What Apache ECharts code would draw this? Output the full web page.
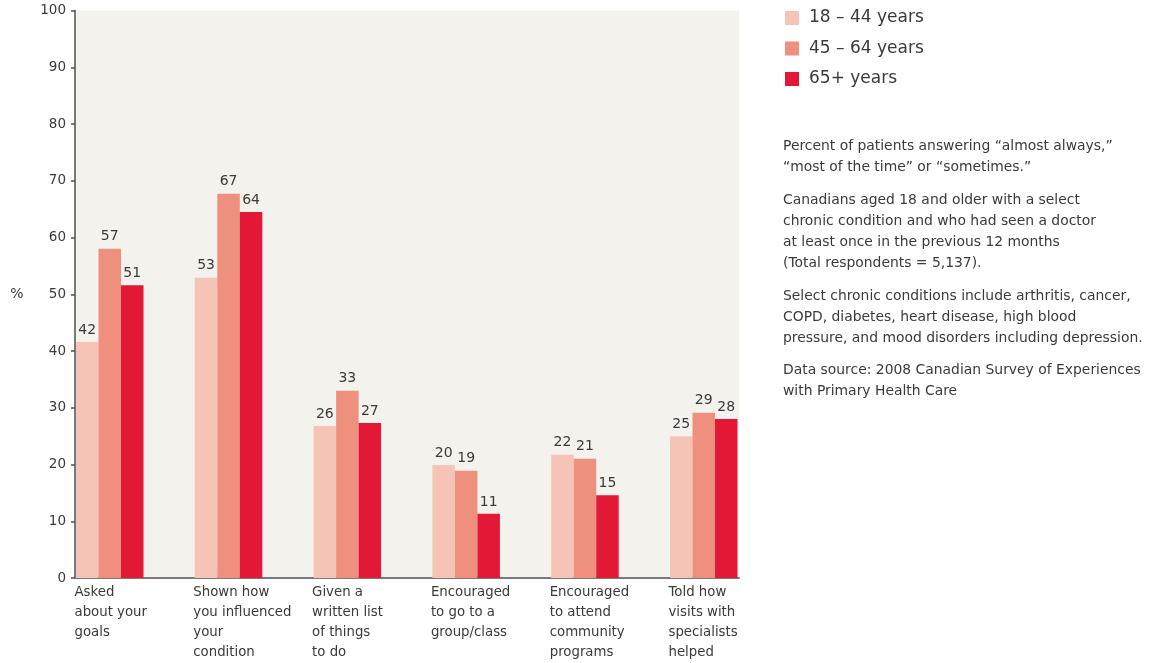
<!DOCTYPE html>
<html>
<head>
<meta charset="utf-8">
<script src="https://cdn.jsdelivr.net/npm/echarts@6/dist/echarts.min.js"></script>
<style>
html,body{margin:0;padding:0;background:#fff;}
#chart{width:1149px;height:663px;}
</style>
</head>
<body>
<div id="chart"></div>
<script>
// ---- data ----
const categories = [
  'Asked\nabout your\ngoals',
  'Shown how\nyou influenced\nyour\ncondition',
  'Given a\nwritten list\nof things\nto do',
  'Encouraged\nto go to a\ngroup/class',
  'Encouraged\nto attend\ncommunity\nprograms',
  'Told how\nvisits with\nspecialists\nhelped'
];
const seriesNames = ['18 – 44 years', '45 – 64 years', '65+ years'];
// bar heights as drawn
const age18to44 = [41.6, 52.9, 26.8, 19.9, 21.7, 25.0];
const age45to64 = [58.0, 67.7, 33.0, 18.9, 21.0, 29.1];
const age65plus = [51.6, 64.5, 27.3, 11.3, 14.6, 28.0];
// printed value labels
const labels18to44 = [42, 53, 26, 20, 22, 25];
const labels45to64 = [57, 67, 33, 19, 21, 29];
const labels65plus = [51, 64, 27, 11, 15, 28];
const yMin = 0, yMax = 100, yStep = 10;
const notes = [
  'Percent of patients answering “almost always,”\n“most of the time” or “sometimes.”',
  'Canadians aged 18 and older with a select\nchronic condition and who had seen a doctor\nat least once in the previous 12 months\n(Total respondents = 5,137).',
  'Select chronic conditions include arthritis, cancer,\nCOPD, diabetes, heart disease, high blood\npressure, and mood disorders including depression.',
  'Data source: 2008 Canadian Survey of Experiences\nwith Primary Health Care'
];
const noteTops = [136, 190, 286, 360];

// ---- style ----
const FONT = 'DejaVu Sans';
const colors = ['#f6c4b6', '#ef8f7e', '#e31837'];
const valueSets = [age18to44, age45to64, age65plus];
const labelSets = [labels18to44, labels45to64, labels65plus];

const plotTop = 10.5, plotHeight = 567.5;
const bandW = 118.8, firstGroupCenter = 109.75;
const barsLeft = firstGroupCenter - bandW / 2;

const chart = echarts.init(document.getElementById('chart'), null, {renderer: 'canvas'});

const option = {
  animation: false,
  textStyle: {fontFamily: FONT},
  color: colors,
  title: notes.map((t, i) => ({
    text: t,
    left: 783,
    top: noteTops[i],
    padding: 0,
    textStyle: {fontFamily: FONT, fontSize: 13.9, fontWeight: 'normal', color: '#3a3a3a', lineHeight: 21}
  })),
  legend: {
    data: seriesNames,
    orient: 'vertical',
    left: 785,
    top: 8,
    padding: 0,
    icon: 'rect',
    itemWidth: 14,
    itemHeight: 14,
    itemGap: 10.5,
    selectedMode: false,
    textStyle: {fontFamily: FONT, fontSize: 17, color: '#3a3a3a', lineHeight: 20, padding: [0, 0, 0, 5]}
  },
  grid: [
    {left: 75, top: plotTop, width: 664, height: plotHeight, show: true, backgroundColor: '#f3f2ec', borderWidth: 0},
    {left: barsLeft, top: plotTop, width: bandW * 6, height: plotHeight},
    {left: barsLeft - 35.25, top: plotTop, width: bandW * 6, height: plotHeight}
  ],
  xAxis: [
    {gridIndex: 0, type: 'category', data: categories, position: 'bottom',
     axisLine: {show: true, lineStyle: {color: '#7a7a7a', width: 2}},
     axisTick: {show: false}, axisLabel: {show: false}, splitLine: {show: false}},
    {gridIndex: 1, type: 'category', data: categories,
     axisLine: {show: false}, axisTick: {show: false}, axisLabel: {show: false}},
    {gridIndex: 2, type: 'category', data: categories,
     axisLine: {show: false}, axisTick: {show: false},
     axisLabel: {show: true, interval: 0, align: 'left', verticalAlign: 'top', margin: 5.5,
       fontFamily: FONT, fontSize: 13.3, lineHeight: 20, color: '#3a3a3a'}}
  ],
  yAxis: [
    {gridIndex: 0, type: 'value', min: yMin, max: yMax, interval: yStep,
     name: '%', nameLocation: 'middle', nameGap: 51.5, nameRotate: 0,
     nameTextStyle: {fontFamily: FONT, fontSize: 14, color: '#3a3a3a'},
     axisLine: {show: true, lineStyle: {color: '#505050', width: 1.5}},
     axisTick: {show: true, length: 4, lineStyle: {color: '#505050', width: 1.5}},
     axisLabel: {fontFamily: FONT, fontSize: 13.5, color: '#3a3a3a', margin: 9},
     splitLine: {show: false}},
    {gridIndex: 1, type: 'value', min: yMin, max: yMax, show: false},
    {gridIndex: 2, type: 'value', min: yMin, max: yMax, show: false}
  ],
  series: seriesNames.map((name, i) => ({
    name: name,
    type: 'bar',
    xAxisIndex: 1,
    yAxisIndex: 1,
    data: valueSets[i],
    barWidth: 22.5,
    barGap: '0%',
    itemStyle: {color: colors[i]},
    label: {
      show: true,
      position: 'top',
      distance: 5,
      fontFamily: FONT,
      fontSize: 14,
      color: '#3a3a3a',
      formatter: p => String(labelSets[i][p.dataIndex])
    }
  }))
};

chart.setOption(option);
</script>
</body>
</html>
